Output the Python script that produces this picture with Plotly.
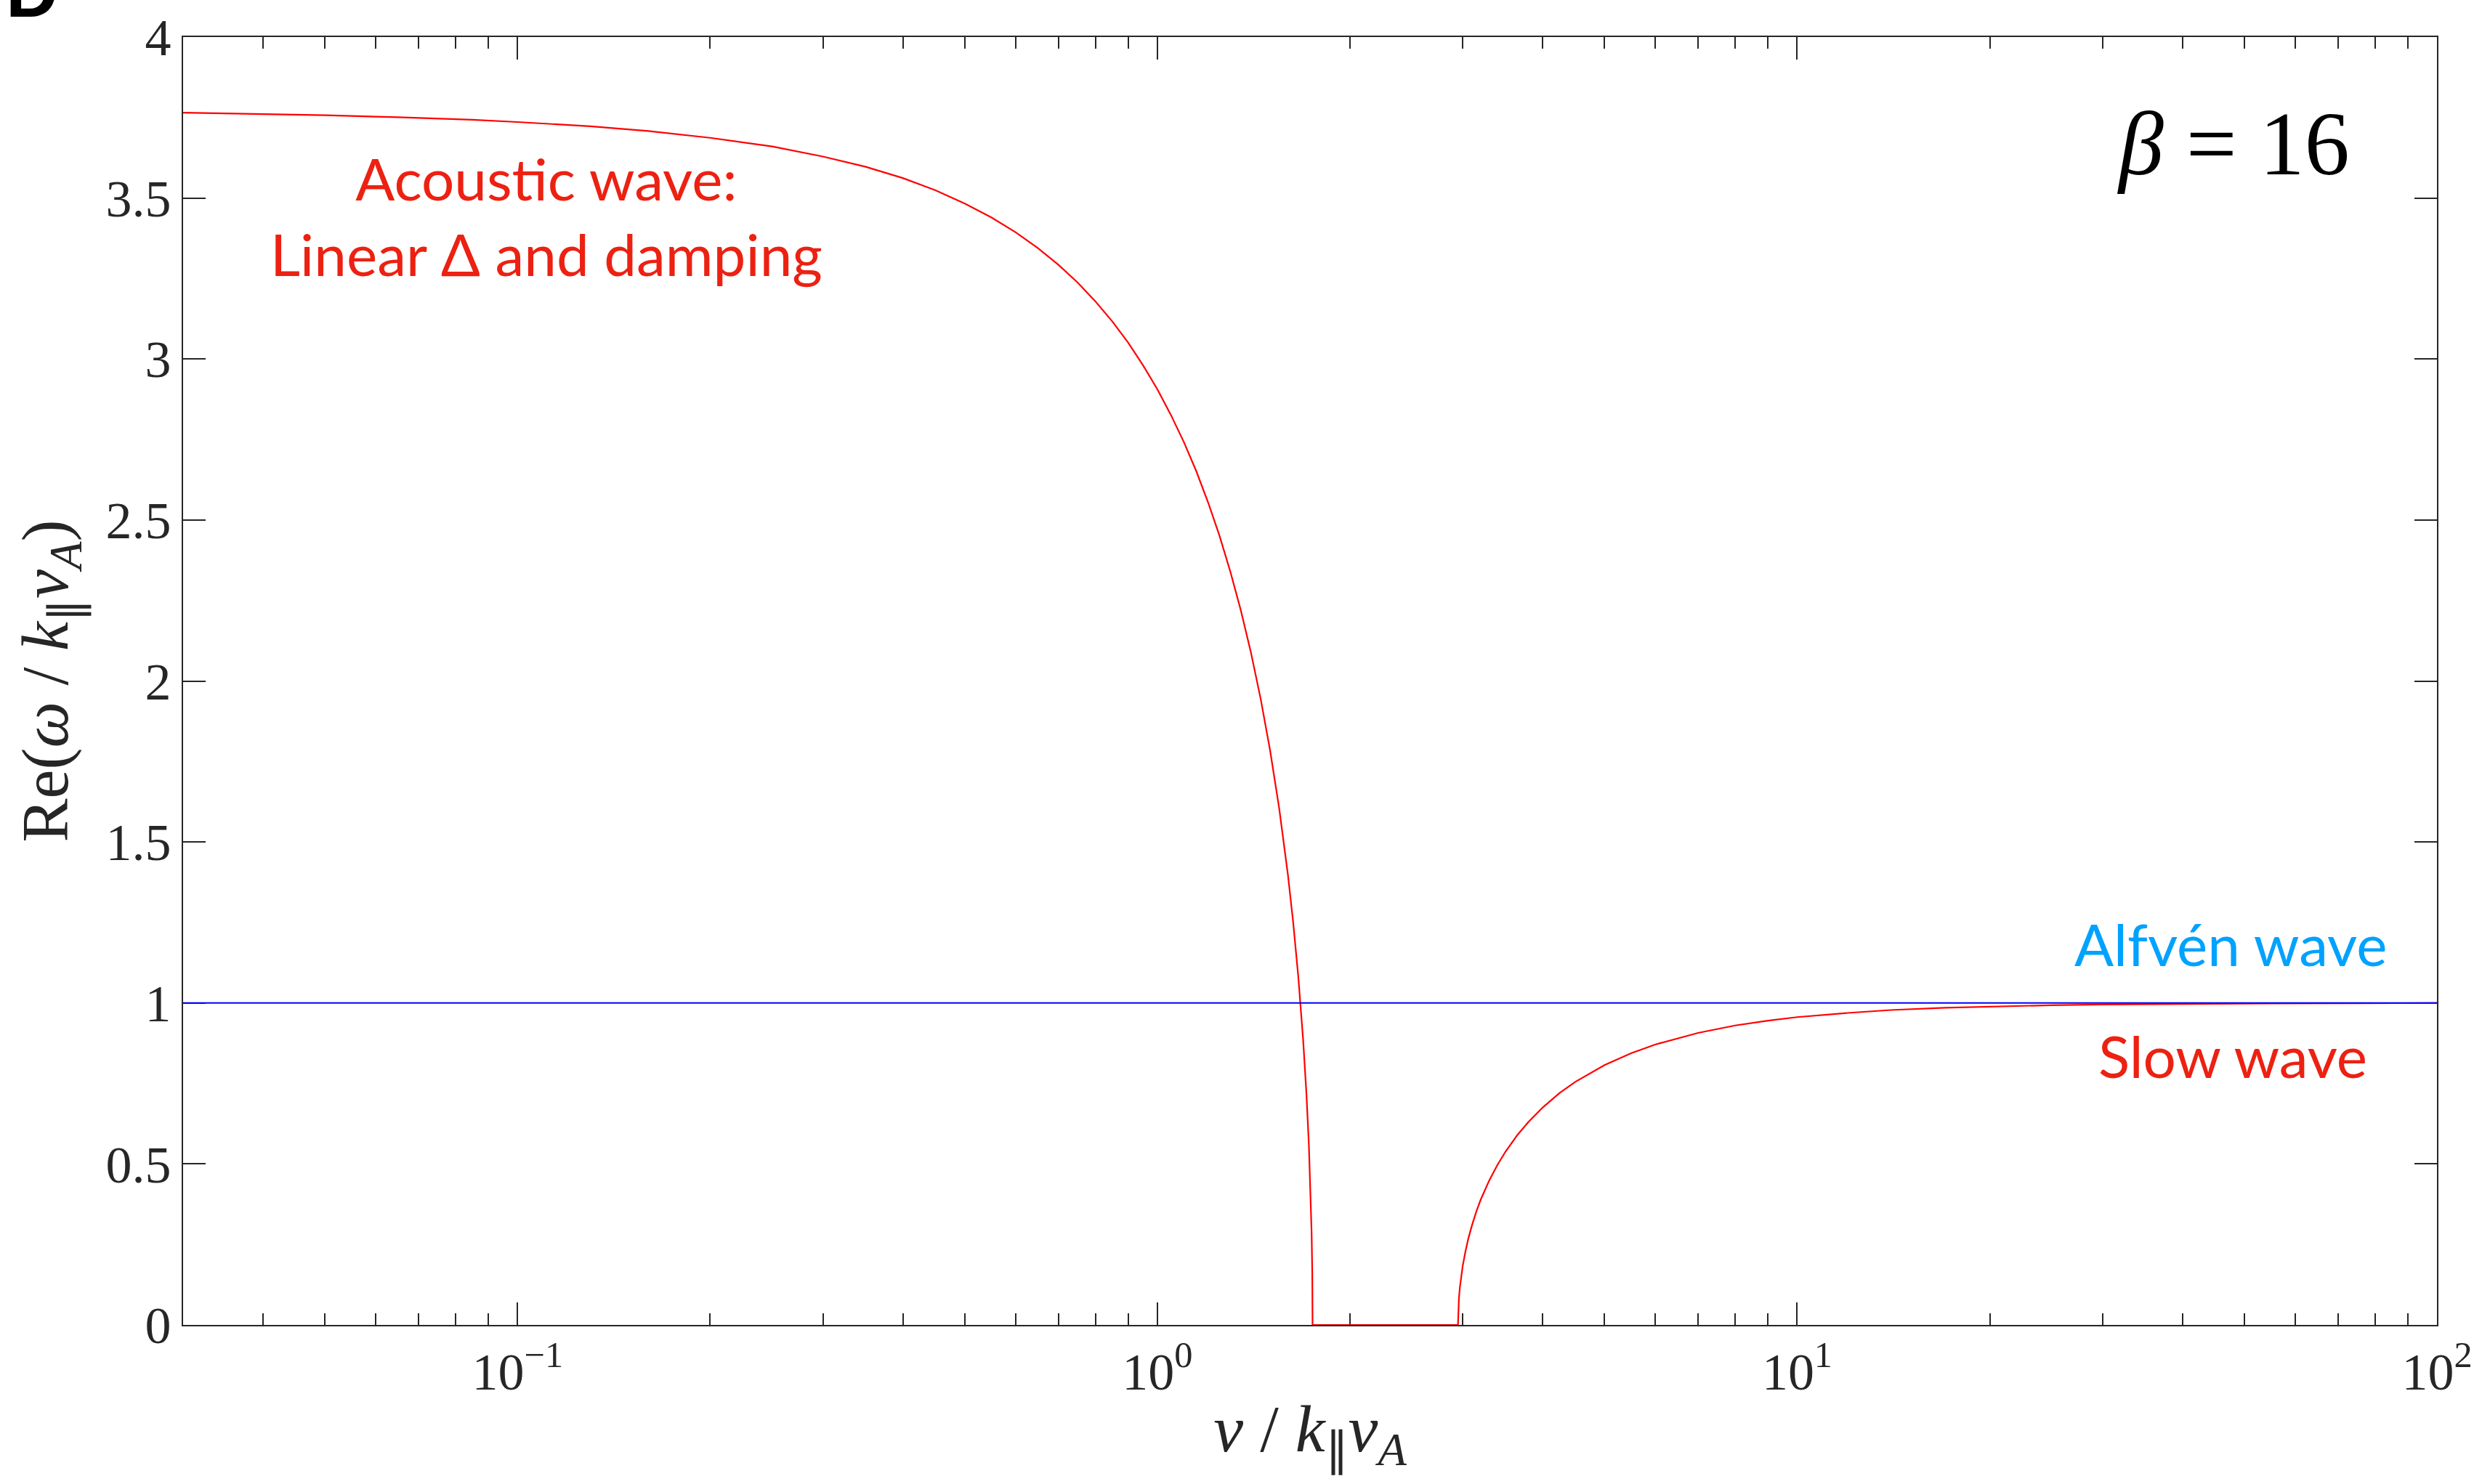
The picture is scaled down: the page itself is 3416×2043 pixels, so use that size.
import plotly.graph_objects as go

# ---------------- data ----------------
nu_acoustic = [0.03, 0.04, 0.05, 0.065, 0.085, 0.1, 0.13, 0.16, 0.2, 0.25, 0.3, 0.35,
               0.4, 0.45, 0.5, 0.55, 0.6, 0.65, 0.7, 0.75, 0.8, 0.85, 0.9, 0.95,
               1.0, 1.05, 1.1, 1.15, 1.2, 1.25, 1.3, 1.35, 1.4, 1.45, 1.5, 1.55,
               1.6, 1.63, 1.66, 1.69, 1.71, 1.725, 1.735, 1.742, 1.746, 1.748]
re_acoustic = [3.765, 3.761, 3.757, 3.751, 3.743, 3.736, 3.723, 3.708, 3.687, 3.660,
               3.629, 3.597, 3.562, 3.524, 3.483, 3.440, 3.394, 3.345, 3.293, 3.238,
               3.179, 3.117, 3.051, 2.980, 2.906, 2.826, 2.742, 2.652, 2.555, 2.452,
               2.340, 2.220, 2.089, 1.945, 1.785, 1.605, 1.396, 1.251, 1.084, 0.883,
               0.716, 0.558, 0.420, 0.285, 0.163, 0.0]

nu_gap = [1.748, 2.95]
re_gap = [0.0, 0.0]

nu_slow = [2.95, 2.955, 2.96, 2.97, 2.98, 3.0, 3.03, 3.06, 3.1, 3.15, 3.2, 3.3, 3.4,
           3.5, 3.65, 3.8, 4.0, 4.25, 4.5, 5, 5.5, 6, 7, 8, 9, 10, 12, 14, 17, 20,
           25, 30, 40, 55, 75, 100]
re_slow = [0.0, 0.058, 0.082, 0.116, 0.142, 0.182, 0.228, 0.266, 0.307, 0.351,
           0.388, 0.448, 0.497, 0.538, 0.589, 0.630, 0.675, 0.720, 0.755, 0.807,
           0.844, 0.871, 0.907, 0.930, 0.945, 0.956, 0.969, 0.978, 0.985, 0.989,
           0.993, 0.995, 0.997, 0.9986, 0.9992, 0.9996]

nu_alfven = [0.03, 100]
re_alfven = [1.0, 1.0]

x_tickvals = [0.1, 1, 10, 100]
x_ticktext = ["10<sup>\u22121</sup>", "10<sup>0</sup>", "10<sup>1</sup>", "10<sup>2</sup>"]
x_minor_vals = [0.04, 0.05, 0.06, 0.07, 0.08, 0.09,
                0.2, 0.3, 0.4, 0.5, 0.6, 0.7, 0.8, 0.9,
                2, 3, 4, 5, 6, 7, 8, 9,
                20, 30, 40, 50, 60, 70, 80, 90]
y_tickvals = [0, 0.5, 1, 1.5, 2, 2.5, 3, 3.5, 4]
y_ticktext = ["0", "0.5", "1", "1.5", "2", "2.5", "3", "3.5", "4"]

label_acoustic = "Acoustic wave:<br>Linear \u0394 and damping"
label_alfven = "Alfv\u00e9n wave"
label_slow = "Slow wave"
label_beta = "<i>\u03b2</i> = 16"
panel_label = "D"

# ---------------- figure ----------------
AX = "#262626"
RED_TXT = "#EC2112"
BLUE_TXT = "#00A2FF"
SERIF = "Liberation Serif"
SANS = "Lato"

fig = go.Figure()
fig.add_trace(go.Scatter(
    x=nu_acoustic + nu_gap + nu_slow,
    y=re_acoustic + re_gap + re_slow,
    mode="lines", line=dict(color="#FF0000", width=2.2), showlegend=False,
    cliponaxis=False, hoverinfo="skip"))
fig.add_trace(go.Scatter(
    x=nu_alfven, y=re_alfven, mode="lines",
    line=dict(color="#0000FF", width=1.8), showlegend=False, hoverinfo="skip"))

fig.update_layout(
    width=3416, height=2043, autosize=False,
    margin=dict(l=252, r=62, t=48, b=219, pad=0),
    paper_bgcolor="white", plot_bgcolor="white",
    font=dict(family=SERIF, size=72, color=AX),
)

fig.update_xaxes(
    type="log", range=[-1.5228787, 2.0],
    showgrid=False, zeroline=False,
    showline=True, linecolor=AX, linewidth=2.2, mirror="ticks",
    ticks="inside", ticklen=31, tickwidth=2.2, tickcolor=AX,
    tickmode="array", tickvals=x_tickvals, ticktext=x_ticktext,
    tickfont=dict(family=SERIF, size=72, color=AX),
    minor=dict(tickmode="array", tickvals=x_minor_vals, ticks="inside",
               ticklen=16, tickwidth=2.2, tickcolor=AX, showgrid=False),
    title=dict(text="<i>\u03bd</i> / <i>k</i><sub>\u2225</sub><i>v</i><sub><i>A</i></sub>",
               font=dict(family=SERIF, size=92, color=AX), standoff=6),
    layer="below traces",
)
fig.update_yaxes(
    range=[0, 4],
    showgrid=False, zeroline=False,
    showline=True, linecolor=AX, linewidth=2.2, mirror="ticks",
    ticks="inside", ticklen=31, tickwidth=2.2, tickcolor=AX,
    tickmode="array", tickvals=y_tickvals, ticktext=y_ticktext,
    tickfont=dict(family=SERIF, size=72, color=AX),
    title=dict(text="Re(<i>\u03c9</i> / <i>k</i><sub>\u2225</sub><i>v</i><sub><i>A</i></sub>)",
               font=dict(family=SERIF, size=90, color=AX), standoff=22),
    layer="below traces",
)

fig.add_annotation(xref="paper", yref="paper", x=0.1612, y=0.861,
                   xanchor="center", yanchor="middle", showarrow=False,
                   text=label_acoustic, align="center",
                   font=dict(family=SANS, size=80, color=RED_TXT))
fig.add_annotation(xref="paper", yref="paper", x=0.9085, y=0.296,
                   xanchor="center", yanchor="middle", showarrow=False,
                   text=label_alfven, font=dict(family=SANS, size=80, color=BLUE_TXT))
fig.add_annotation(xref="paper", yref="paper", x=0.9095, y=0.209,
                   xanchor="center", yanchor="middle", showarrow=False,
                   text=label_slow, font=dict(family=SANS, size=80, color=RED_TXT))
fig.add_annotation(xref="paper", yref="paper", x=0.9097, y=0.9167,
                   xanchor="center", yanchor="middle", showarrow=False,
                   text=label_beta, font=dict(family=SERIF, size=124, color="black"))
fig.add_annotation(xref="paper", yref="paper", x=-0.0793, y=1.003,
                   xanchor="left", yanchor="bottom", showarrow=False,
                   text="<b>" + panel_label + "</b>",
                   font=dict(family="Liberation Sans", size=100, color="black"))

fig.write_html("out.html")
